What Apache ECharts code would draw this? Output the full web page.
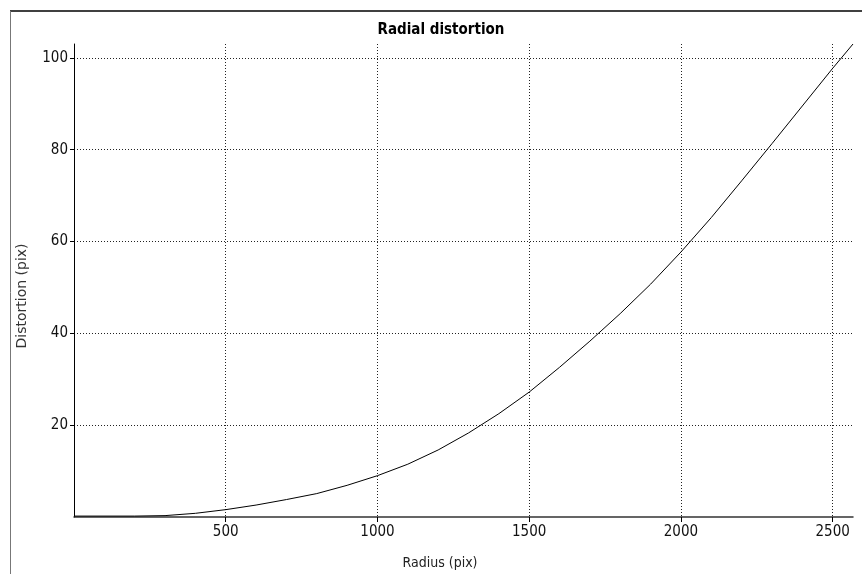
<!DOCTYPE html>
<html><head><meta charset="utf-8">
<script src="https://cdn.jsdelivr.net/npm/echarts@6/dist/echarts.min.js"></script>
<style>html,body{margin:0;padding:0;background:#fff}#c{width:862px;height:574px}</style>
</head><body><div id="c"></div>
<script>
const titleText = 'Radial distortion';
const xName = 'Radius (pix)';
const yName = 'Distortion (pix)';
const radius = [0, 200, 300, 400, 500, 600, 700, 800, 900, 1000, 1100, 1200, 1300, 1400, 1500, 1600, 1700, 1800, 1900, 2000, 2100, 2200, 2300, 2400, 2500, 2567];
const distortion = [0.2, 0.2, 0.3, 0.8, 1.6, 2.6, 3.8, 5.1, 6.9, 9.0, 11.5, 14.6, 18.3, 22.5, 27.2, 32.6, 38.3, 44.3, 50.7, 57.7, 65.2, 73.2, 81.3, 89.5, 97.7, 103];
const xTicks = [500, 1000, 1500, 2000, 2500];
const yTicks = [20, 40, 60, 80, 100];
const xMax = 2567, yMax = 103;

const font = "'Liberation Sans Narrow','DejaVu Sans Condensed',sans-serif";
const chart = echarts.init(document.getElementById('c'), null, {renderer: 'canvas'});
chart.setOption({
  animation: false,
  backgroundColor: '#fff',
  grid: {left: 74, right: 9, top: 44, bottom: 57, containLabel: false},
  graphic: [
    {type: 'line', shape: {x1: 10, y1: 11, x2: 862, y2: 11}, style: {stroke: '#000', lineWidth: 1.5}},
    {type: 'line', shape: {x1: 10.5, y1: 11, x2: 10.5, y2: 574}, style: {stroke: '#777', lineWidth: 1}},
    {type: 'text', x: 441, y: 30, style: {text: titleText, font: "bold 15px " + font, fill: '#000', align: 'center', verticalAlign: 'middle'}},
    {type: 'text', x: 440, y: 563, style: {text: xName, font: "14px " + font, fill: '#222', align: 'center', verticalAlign: 'middle'}},
    {type: 'text', x: 22, y: 296, rotation: Math.PI / 2, style: {text: yName, font: "14px 'DejaVu Sans',sans-serif", fill: '#333', align: 'center', verticalAlign: 'middle'}}
  ],
  xAxis: {
    type: 'value', min: 0, max: xMax, interval: 500,
    axisLine: {show: true, lineStyle: {color: '#333', width: 1.5}},
    axisTick: {show: true, length: 5, inside: false, customValues: xTicks, lineStyle: {color: '#000'}},
    axisLabel: {customValues: xTicks, formatter: v => String(v), color: '#111', fontFamily: font, fontSize: 15, margin: 8},
    splitLine: {show: true, showMinLine: true, showMaxLine: true, lineStyle: {type: [1, 2], color: '#222', width: 1}}
  },
  yAxis: {
    type: 'value', min: 0, max: yMax, interval: 20,
    axisLine: {show: true, lineStyle: {color: '#000', width: 1}},
    axisTick: {show: true, length: 4, inside: false, customValues: yTicks, lineStyle: {color: '#000'}},
    axisLabel: {customValues: yTicks, formatter: v => String(v), color: '#111', fontFamily: font, fontSize: 15, margin: 6},
    splitLine: {show: true, showMinLine: true, showMaxLine: true, lineStyle: {type: [1, 2], color: '#222', width: 1}}
  },
  series: [{
    type: 'line',
    data: radius.map((r, i) => [r, distortion[i]]),
    showSymbol: false, symbol: 'none', smooth: false,
    lineStyle: {color: '#000', width: 1}
  }]
});
</script></body></html>
